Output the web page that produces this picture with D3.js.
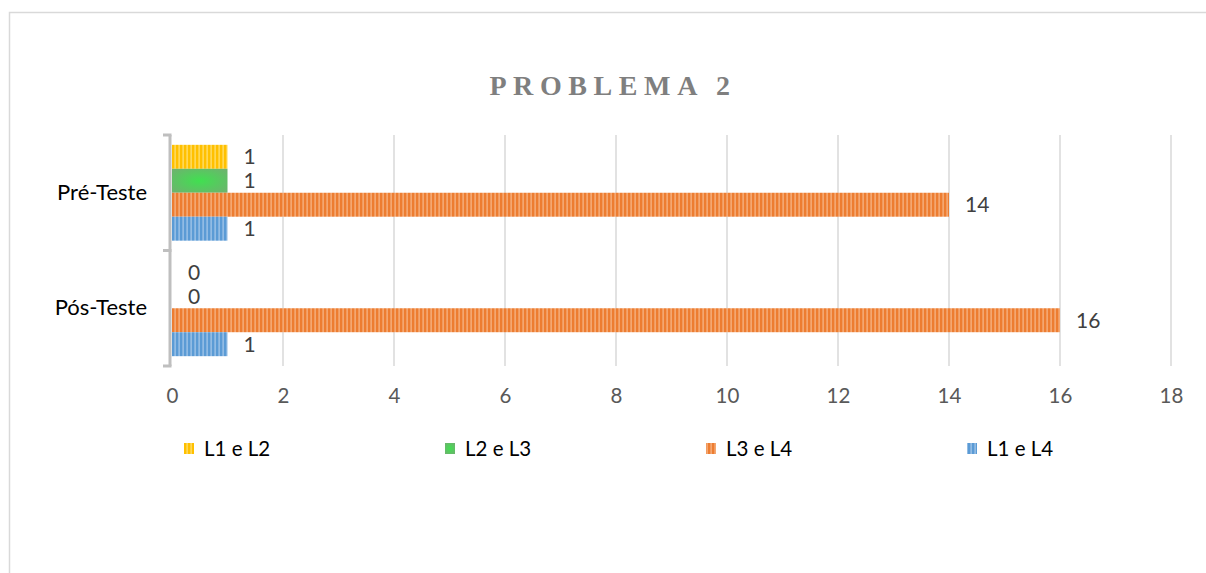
<!DOCTYPE html>
<html>
<head>
<meta charset="utf-8">
<script src="https://cdn.jsdelivr.net/npm/d3@7"></script>
<style>
html,body{margin:0;padding:0;background:#fff;}
svg{display:block;}
</style>
</head>
<body>
<svg id="chart" width="1206" height="573"></svg>
<script>
// ---- data ----
const categories = ["Pré-Teste", "Pós-Teste"];
const seriesNames = ["L1 e L2", "L2 e L3", "L3 e L4", "L1 e L4"];
const valuesL1L2 = [1, 0];
const valuesL2L3 = [1, 0];
const valuesL3L4 = [14, 16];
const valuesL1L4 = [1, 1];
const xTicks = [0, 2, 4, 6, 8, 10, 12, 14, 16, 18];
const titleText = "PROBLEMA 2";

const seriesValues = [valuesL1L2, valuesL2L3, valuesL3L4, valuesL1L4];
const seriesColors = ["#FFC000", "#4CC85A", "#ED7D31", "#5B9BD5"];
const stripeColors = ["#FFE27A", null, "#F7B98C", "#A9CAEB"];

const svg = d3.select("#chart");
const W = 1206, H = 573;
const font = "Lato, 'Noto Sans', sans-serif";

// defs: patterns
const defs = svg.append("defs");
seriesColors.forEach((c, i) => {
  if (stripeColors[i]) {
    const p = defs.append("pattern").attr("id", "pat" + i)
      .attr("patternUnits", "userSpaceOnUse").attr("width", 4).attr("height", 4);
    p.append("rect").attr("width", 4).attr("height", 4).attr("fill", c);
    p.append("rect").attr("x", 2.5).attr("width", 1.2).attr("height", 4).attr("fill", stripeColors[i]);
  } else {
    const g = defs.append("radialGradient").attr("id", "pat" + i)
      .attr("cx", "50%").attr("cy", "50%").attr("r", "70%");
    g.append("stop").attr("offset", "0%").attr("stop-color", "#40E050");
    g.append("stop").attr("offset", "100%").attr("stop-color", "#70B070");
  }
});

// frame
svg.append("path").attr("d", `M9.5,${H} L9.5,12.5 L${W},12.5`)
  .attr("fill", "none").attr("stroke", "#d9d9d9").attr("stroke-width", 1.5);

// title
svg.append("text").attr("x", 613).attr("y", 95)
  .attr("text-anchor", "middle")
  .attr("font-family", "'Liberation Serif', 'DejaVu Serif', serif")
  .attr("font-weight", "bold").attr("font-size", 28)
  .attr("letter-spacing", 6.6)
  .attr("fill", "#7f7f7f")
  .text(titleText);

// scales
const x = d3.scaleLinear().domain([0, 18]).range([172, 1171]);
const y = d3.scaleBand().domain(categories).range([135, 366]).padding(0);
const ySub = d3.scaleBand().domain(seriesNames).range([0, y.bandwidth()])
  .paddingInner(0).paddingOuter(0.41);

// gridlines
svg.append("g").selectAll("line").data(xTicks.filter(t => t > 0)).join("line")
  .attr("x1", d => x(d)).attr("x2", d => x(d))
  .attr("y1", 135).attr("y2", 366)
  .attr("stroke", "#d9d9d9").attr("stroke-width", 1.5);

// x axis tick labels
const xAxis = d3.axisBottom(x).tickValues(xTicks).tickSize(0).tickPadding(0);
const gx = svg.append("g").attr("transform", "translate(0,388)").call(xAxis);
gx.select(".domain").remove();
gx.selectAll("text").attr("font-family", font).attr("font-size", 20.5)
  .attr("fill", "#595959").attr("dy", "0.75em");

// bars
const barG = svg.append("g");
seriesNames.forEach((s, si) => {
  categories.forEach((c, ci) => {
    const v = seriesValues[si][ci];
    const y0 = y(c) + ySub(s);
    barG.append("rect")
      .attr("x", x(0)).attr("y", y0)
      .attr("width", x(v) - x(0)).attr("height", ySub.bandwidth())
      .attr("fill", `url(#pat${si})`);
    barG.append("text")
      .attr("x", x(v) + 16).attr("y", y0 + ySub.bandwidth() / 2)
      .attr("dy", "0.36em")
      .attr("font-family", font).attr("font-size", 21).attr("fill", "#404040")
      .text(v);
  });
});

// category axis (left)
const yAxis = d3.axisLeft(y).tickSize(0).tickPadding(23);
const gy = svg.append("g").attr("transform", "translate(170,0)").call(yAxis);
gy.select(".domain").remove();
gy.selectAll("text").attr("font-family", font).attr("font-size", 22).attr("fill", "#000");
const axisG = svg.append("g").attr("stroke", "#bfbfbf").attr("fill", "none");
axisG.append("line").attr("x1", 170).attr("x2", 170).attr("y1", 135).attr("y2", 366).attr("stroke-width", 3);
const bounds = [y.range()[0], y(categories[1]), y.range()[1]];
axisG.selectAll("line.tk").data(bounds).join("line").attr("class", "tk")
  .attr("x1", 163).attr("x2", 171.5).attr("y1", d => d).attr("y2", d => d).attr("stroke-width", 3);

// legend
const legend = svg.append("g");
seriesNames.forEach((s, i) => {
  const lx = 184 + i * 261;
  legend.append("rect").attr("x", lx).attr("y", 443).attr("width", 10).attr("height", 11)
    .attr("fill", `url(#pat${i})`);
  legend.append("text").attr("x", lx + 20).attr("y", 449).attr("dy", "0.36em")
    .attr("font-family", font).attr("font-size", 20.5).attr("fill", "#000").text(s);
});
</script>
</body>
</html>
